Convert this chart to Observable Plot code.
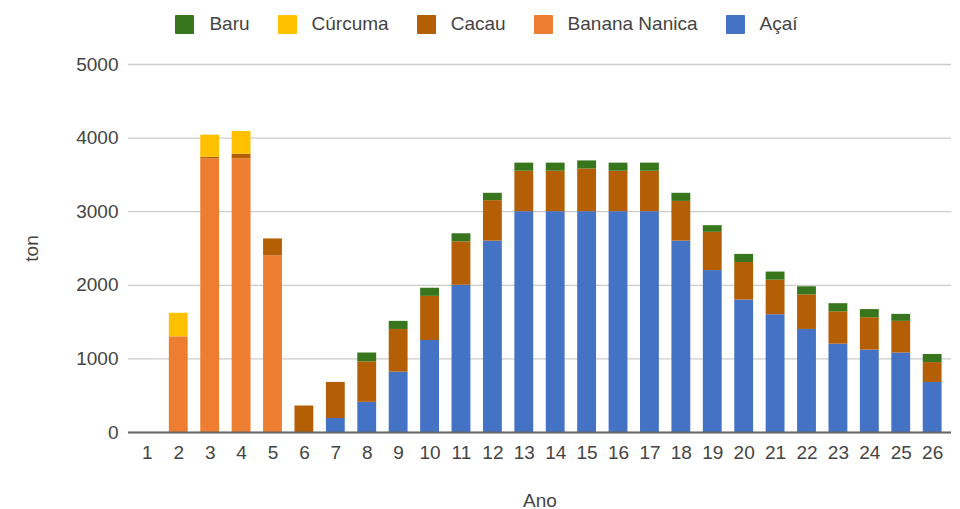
<!DOCTYPE html>
<html>
<head>
<meta charset="utf-8">
<script src="https://cdn.jsdelivr.net/npm/d3@7"></script>
<script src="https://cdn.jsdelivr.net/npm/@observablehq/plot@0.6"></script>
<style>
  html, body { margin: 0; padding: 0; background: #fff; }
  body { width: 960px; height: 509px; overflow: hidden; font-family: "Liberation Sans", Arial, sans-serif; }
  #legend { height: 44px; display: flex; justify-content: center; align-items: center; padding-left: 13px; box-sizing: border-box; padding-top: 4px; }
  .item { display: flex; align-items: center; margin: 0 14px; font-size: 19px; color: #444; }
  .sw { width: 19px; height: 19px; min-width: 19px; flex-shrink: 0; margin-right: 15px; border-radius: 1px; }
</style>
</head>
<body>
<div id="legend"></div>
<div id="chart"></div>
<script>
const years = ["1","2","3","4","5","6","7","8","9","10","11","12","13","14","15","16","17","18","19","20","21","22","23","24","25","26"];
const acai    = [0,0,0,0,0,0,190,410,820,1250,2000,2600,3000,3000,3000,3000,3000,2600,2200,1800,1600,1400,1200,1120,1080,680];
const banana  = [0,1300,3720,3720,2400,0,0,0,0,0,0,0,0,0,0,0,0,0,0,0,0,0,0,0,0,0];
const cacau   = [0,0,20,60,230,360,490,550,580,600,590,550,550,550,580,550,550,540,520,510,470,470,440,440,430,270];
const curcuma = [0,320,300,310,0,0,0,0,0,0,0,0,0,0,0,0,0,0,0,0,0,0,0,0,0,0];
const baru    = [0,0,0,0,0,0,0,120,110,110,110,100,110,110,110,110,110,110,90,110,110,110,110,110,95,110];

const seriesNames = ["Açaí","Banana Nanica","Cacau","Cúrcuma","Baru"];
const seriesValues = [acai, banana, cacau, curcuma, baru];
const colors = ["#4472c4","#ed7d31","#b45f06","#ffc000","#38761d"];
const yTicks = [0,1000,2000,3000,4000,5000];

const data = [];
seriesNames.forEach((s, k) => {
  years.forEach((y, i) => data.push({ano: y, serie: s, ton: seriesValues[k][i]}));
});

// Legend (reverse order as in the reference)
const legend = document.getElementById("legend");
for (let k = seriesNames.length - 1; k >= 0; k--) {
  const it = document.createElement("div");
  it.className = "item";
  const sw = document.createElement("div");
  sw.className = "sw";
  sw.style.background = colors[k];
  it.appendChild(sw);
  it.appendChild(document.createTextNode(seriesNames[k]));
  legend.appendChild(it);
}

const chart = Plot.plot({
  width: 960,
  height: 465,
  marginLeft: 128,
  marginRight: 9,
  marginTop: 20,
  marginBottom: 77,
  style: { fontFamily: "'Liberation Sans', Arial, sans-serif", fontSize: "19px", color: "#444", background: "#fff" },
  x: { domain: years, paddingInner: 0.4, paddingOuter: 0.3, round: false },
  y: { domain: [0, 5000] },
  color: { domain: seriesNames, range: colors },
  marks: [
    Plot.gridY(yTicks, { stroke: "#cccccc", strokeOpacity: 1, strokeWidth: 1.3 }),
    Plot.barY(data, Plot.stackY({ order: seriesNames }, { x: "ano", y: "ton", fill: "serie" })),
    Plot.ruleY([0], { stroke: "#666", strokeWidth: 2 }),
    Plot.axisY(yTicks, { tickSize: 0, tickPadding: 10, tickFormat: d => String(d), label: "ton", labelArrow: "none", labelAnchor: "center", labelOffset: 104, fill: "#444" }),
    Plot.axisX({ tickSize: 0, tickPadding: 13, label: "Ano", labelArrow: "none", labelAnchor: "center", labelOffset: 74, fill: "#444" })
  ]
});
document.getElementById("chart").appendChild(chart);
</script>
</body>
</html>
